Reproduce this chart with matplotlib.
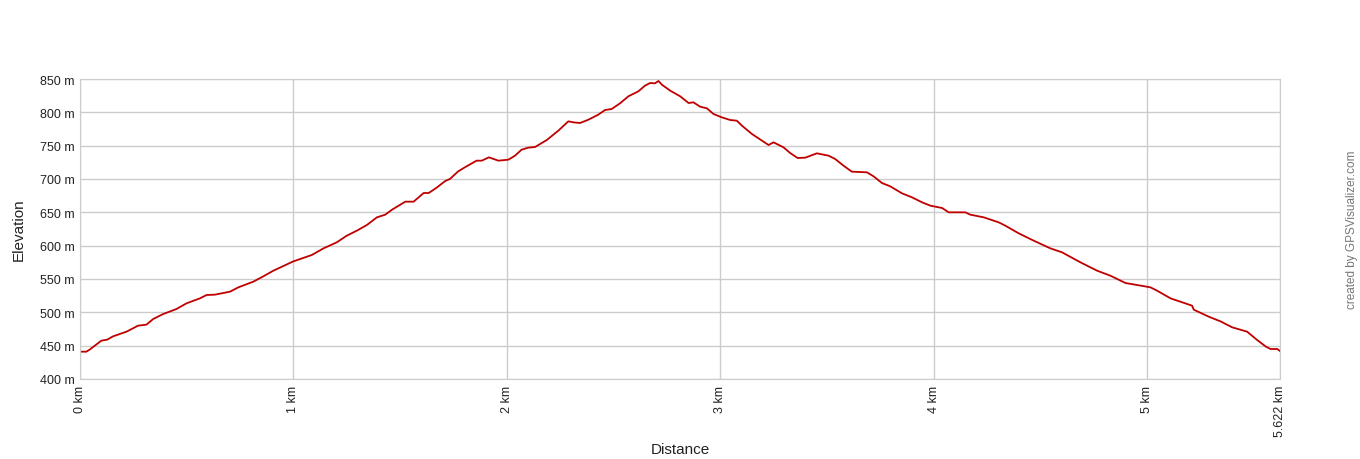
import matplotlib
matplotlib.use("Agg")
import matplotlib.pyplot as plt

plt.rcParams['font.family'] = ['Liberation Sans', 'DejaVu Sans']

# profile (km, m)
distance_km = [
    0.0, 0.03, 0.045, 0.10, 0.127, 0.155, 0.218, 0.272, 0.311, 0.343, 0.39,
    0.452, 0.499, 0.562, 0.593, 0.632, 0.703, 0.742, 0.812, 0.859, 0.906,
    1.0, 1.086, 1.141, 1.203, 1.25, 1.297, 1.344, 1.391, 1.43, 1.462, 1.524,
    1.563, 1.61, 1.634, 1.673, 1.711, 1.733, 1.772, 1.811, 1.858, 1.882,
    1.916, 1.96, 2.007, 2.038, 2.069, 2.10, 2.132, 2.187, 2.241, 2.288,
    2.311, 2.343, 2.382, 2.428, 2.46, 2.491, 2.53, 2.569, 2.616, 2.647,
    2.671, 2.694, 2.71, 2.726, 2.765, 2.812, 2.851, 2.874, 2.905, 2.937,
    2.968, 3.007, 3.046, 3.077, 3.101, 3.148, 3.195, 3.226, 3.249, 3.296,
    3.327, 3.362, 3.398, 3.452, 3.507, 3.538, 3.577, 3.616, 3.687, 3.718,
    3.757, 3.796, 3.851, 3.898, 3.945, 3.984, 4.039, 4.07, 4.148, 4.171,
    4.234, 4.304, 4.335, 4.398, 4.468, 4.546, 4.601, 4.687, 4.765, 4.827,
    4.898, 4.952, 5.015, 5.046, 5.109, 5.155, 5.21, 5.218, 5.288, 5.343,
    5.398, 5.468, 5.515, 5.554, 5.577, 5.609, 5.622,
]
elevation_m = [
    441, 441, 444, 457.5, 459, 464, 471, 480, 481.5, 490, 497.5,
    505, 513.5, 521, 526, 526.5, 531, 537.5, 546, 554, 562.5,
    576.5, 586, 596, 605, 615, 622.5, 631, 642.5, 646.5, 654, 666,
    666, 679, 679, 687.5, 697, 700, 711.5, 719, 727.5, 727.5,
    732.5, 727.5, 729, 735, 744, 747, 748, 758.5, 772.5, 786.5,
    785, 784, 789, 796.5, 803.5, 805, 813.5, 824, 831.5, 840,
    844, 843.5, 847, 841.5, 832.5, 824, 814, 815, 808.5, 806,
    797.5, 792.5, 788.5, 787.5, 780, 767.5, 757.5, 751, 755, 747.5,
    739, 731.5, 732, 738.5, 735, 730, 720, 711, 710, 704,
    694, 689, 678.5, 672.5, 665, 660, 656.5, 650, 650, 646.5,
    642.5, 635, 630, 618.5, 607.5, 596, 590, 575, 562.5, 555,
    544, 541, 537.5, 532.5, 521, 516, 510, 504, 493.5, 486.5,
    477.5, 471, 458.5, 449, 445, 445, 442,
]

x_ticks = [0, 1, 2, 3, 4, 5, 5.622]
x_labels = ['0 km', '1 km', '2 km', '3 km', '4 km', '5 km', '5.622 km']
y_ticks = [400, 450, 500, 550, 600, 650, 700, 750, 800, 850]
y_labels = [f'{v} m' for v in y_ticks]

W, H = 1360, 460
fig = plt.figure(figsize=(W / 100, H / 100), dpi=100)
ax = fig.add_axes([80 / W, (H - 380) / H, 1200 / W, 300 / H])

ax.plot(distance_km, elevation_m, color='#c00000', linewidth=1.3)

ax.set_xlim(0, 5.622)
ax.set_ylim(400, 850)
ax.set_xticks(x_ticks)
ax.set_xticklabels(x_labels, rotation=90)
ax.set_yticks(y_ticks)
ax.set_yticklabels(y_labels)
ax.tick_params(length=0, labelsize=9, colors='#222222', pad=4)
ax.grid(True, color='#cccccc', linewidth=1)
ax.set_axisbelow(True)
for s in ax.spines.values():
    s.set_color('#cccccc')

fig.text(680 / W, 1 - 450 / H, 'Distance', ha='center', va='center',
         fontsize=11, color='#222222')
fig.text(19 / W, 1 - 230 / H, 'Elevation', rotation=90, ha='center',
         va='center', fontsize=11, color='#222222')
fig.text(1352 / W, 1 - 230 / H, 'created by GPSVisualizer.com', rotation=90,
         ha='center', va='center', fontsize=8.5, color='#777777')

fig.savefig('out.png', dpi=100)
